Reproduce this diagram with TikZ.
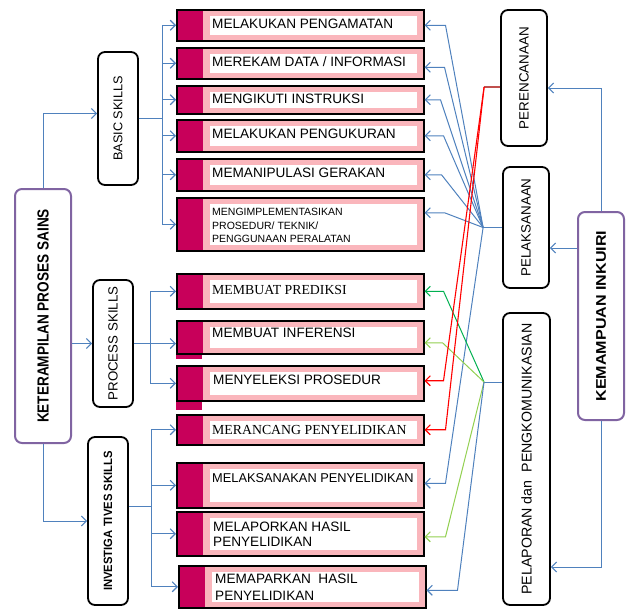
\documentclass[tikz,border=0pt]{standalone}
\usepackage{fontspec}
\usepackage{graphicx}
\setmainfont{Liberation Sans}
\newfontfamily\serifface{Liberation Serif}
\usetikzlibrary{arrows.meta}

\definecolor{linkblue}{RGB}{79,129,189}
\definecolor{crimsonfill}{RGB}{200,0,90}
\definecolor{stripefill}{RGB}{250,182,188}
\definecolor{framepurple}{RGB}{128,100,162}
\definecolor{linkred}{RGB}{255,0,0}
\definecolor{linkdarkred}{RGB}{192,80,77}
\definecolor{linkgreen}{RGB}{0,176,80}
\definecolor{linklightgreen}{RGB}{146,208,80}

\tikzset{
  skillbox/.style={anchor=north west, draw=black, line width=1.5pt, fill=stripefill,
    minimum width=247pt, inner sep=0pt,
    preaction={fill=black, transform canvas={xshift=1.6pt,yshift=-1.6pt}},
    path picture={
      \fill[crimsonfill] (path picture bounding box.north west) rectangle ([xshift=26pt]path picture bounding box.south west);
      \fill[white] ([xshift=33pt,yshift=-6pt]path picture bounding box.north west) rectangle ([xshift=-7pt,yshift=6pt]path picture bounding box.south east);
    }},
  skilltext/.style={anchor=west, inner sep=0pt, align=left, font=\fontsize{13.6}{15}\selectfont},
  groupbox/.style={draw=black, line width=1.8pt, rounded corners=7pt, fill=white, inner sep=0pt,
    font=\fontsize{13.4}{15}\selectfont},
  mainbox/.style={groupbox, draw=framepurple, line width=2pt},
  link/.style={draw=linkblue, line width=1pt},
  linkarrow/.style={link, -{Straight Barb[length=5pt,width=10pt,line width=1.1pt]}},
  redarrow/.style={linkarrow, draw=linkred, line width=1.1pt},
  greenarrow/.style={linkarrow, draw=linkgreen, line width=1pt},
  lightgreenarrow/.style={linkarrow, draw=linklightgreen, line width=1pt},
}

\begin{document}
\begin{tikzpicture}[x=1pt,y=1pt]
\useasboundingbox (0,0) rectangle (626,-608);

% group boxes, left
\node[mainbox, minimum width=56pt, minimum height=254pt, font=\bfseries\fontsize{16}{18}\selectfont] (kps) at (43,-316) {\rotatebox{90}{\scalebox{0.85}[1]{KETERAMPILAN PROSES SAINS}}};
\node[groupbox, minimum width=40pt, minimum height=133pt, font=\fontsize{12.7}{14}\selectfont] (basic) at (118,-118.5) {\rotatebox{90}{BASIC SKILLS}};
\node[groupbox, minimum width=40pt, minimum height=127pt, font=\fontsize{13.3}{15}\selectfont] (proc) at (113,-343.5) {\rotatebox{90}{PROCESS SKILLS}};
\node[groupbox, minimum width=40pt, minimum height=168pt, font=\bfseries\fontsize{12}{14}\selectfont] (inv) at (108,-521) {\rotatebox{90}{\scalebox{0.94}[1]{INVESTIGA TIVES SKILLS}}};

% group boxes, right
\node[groupbox, minimum width=46pt, minimum height=136pt] (per) at (524,-78) {\rotatebox{90}{PERENCANAAN}};
\node[groupbox, minimum width=46pt, minimum height=121pt] (pel) at (526,-227.5) {\rotatebox{90}{PELAKSANAAN}};
\node[groupbox, minimum width=47pt, minimum height=292pt, font=\fontsize{14.2}{16}\selectfont] (lap) at (526.5,-459) {\rotatebox{90}{PELAPORAN dan\ \ PENGKOMUNIKASIAN}};
\node[mainbox, minimum width=46pt, minimum height=208pt, font=\bfseries\fontsize{14}{16}\selectfont] (kem) at (601,-316) {\rotatebox{90}{\scalebox{1.15}[1]{KEMAMPUAN INKUIRI}}};

% skill boxes
\node[skillbox, minimum height=31pt] (b1) at (176,-9) {};
\node[skillbox, minimum height=31pt] (b2) at (176,-47) {};
\node[skillbox, minimum height=28pt] (b3) at (176,-85) {};
\node[skillbox, minimum height=32pt] (b4) at (176,-119) {};
\node[skillbox, minimum height=32pt] (b5) at (176,-158) {};
\node[skillbox, minimum height=53pt] (b6) at (176,-197) {};
\node[skillbox, minimum height=35pt] (b7) at (176,-273) {};
\node[skillbox, minimum height=33pt] (b8) at (176,-320) {};
\node[skillbox, minimum height=35pt] (b9) at (176,-365) {};
\node[skillbox, minimum height=30pt] (b10) at (176,-414) {};
\node[skillbox, minimum height=45pt] (b11) at (176,-462) {};
\node[skillbox, minimum height=44pt] (b12) at (176,-511) {};
\node[skillbox, minimum height=42pt] (b13) at (178,-565) {};
\fill[crimsonfill] (b8.south west) rectangle ++(26,-4);
\fill[crimsonfill] (b9.south west) rectangle ++(26,-8);

% skill texts
\node[skilltext] (t1) at (212,-24) {MELAKUKAN PENGAMATAN};
\node[skilltext] (t2) at (212,-62) {MEREKAM DATA / INFORMASI};
\node[skilltext] (t3) at (212,-99) {MENGIKUTI INSTRUKSI};
\node[skilltext] (t4) at (212,-134) {MELAKUKAN PENGUKURAN};
\node[skilltext] (t5) at (212,-173) {MEMANIPULASI GERAKAN};
\node[skilltext, font=\fontsize{10.5}{13.5}\selectfont] (t6) at (212,-225.5) {MENGIMPLEMENTASIKAN\\PROSEDUR/ TEKNIK/\\PENGGUNAAN PERALATAN};
\node[skilltext, font=\serifface\fontsize{13.8}{15}\selectfont] (t7) at (212,-290) {MEMBUAT PREDIKSI};
\node[skilltext] (t8) at (212,-333) {MEMBUAT INFERENSI};
\node[skilltext] (t9) at (213,-380) {MENYELEKSI PROSEDUR};
\node[skilltext, font=\serifface\fontsize{13.8}{15}\selectfont] (t10) at (212,-430) {MERANCANG PENYELIDIKAN};
\node[skilltext, font=\fontsize{12.8}{15}\selectfont] (t11) at (212,-478) {MELAKSANAKAN PENYELIDIKAN};
\node[skilltext] (t12) at (213,-534.5) {MELAPORKAN HASIL\\PENYELIDIKAN};
\node[skilltext, font=\fontsize{13.6}{17}\selectfont] (t13) at (215,-587.5) {MEMAPARKAN\ \ HASIL\\PENYELIDIKAN};

% left tree
\draw[linkarrow] (kps.north) |- ([yshift=5pt]basic.west);
\draw[linkarrow] (kps.east |- proc.west) -- (proc.west);
\draw[linkarrow] (kps.south) |- (inv.west);

\draw[linkarrow] (basic.east) -- ++(24,0) |- (b1.west);
\draw[linkarrow] (basic.east) -- ++(24,0) |- (b2.west);
\draw[linkarrow] (basic.east) -- ++(24,0) |- (b3.west);
\draw[linkarrow] (basic.east) -- ++(24,0) |- (b4.west);
\draw[linkarrow] (basic.east) -- ++(24,0) |- (b5.west);
\draw[linkarrow] (basic.east) -- ++(24,0) |- (b6.west);

\draw[linkarrow] (proc.east) -- ++(17,0) |- (b7.west);
\draw[linkarrow] (proc.east) -- (proc.east -| b8.west);
\draw[linkarrow] (proc.east) -- ++(17,0) |- (b9.west);

\draw[linkarrow] ([yshift=15pt]inv.east) -- ++(23,0) |- (b10.west);
\draw[linkarrow] ([yshift=15pt]inv.east) -- ++(23,0) |- (b11.west);
\draw[linkarrow] ([yshift=15pt]inv.east) -- ++(23,0) |- (b12.west);
\draw[linkarrow] ([yshift=15pt]inv.east) -- ++(23,0) |- (b13.west);

% right tree
\draw[linkarrow] (kem.north) |- ([yshift=-10pt]per.east);
\path ([yshift=-20.5pt]pel.east) coordinate (pelin);
\draw[linkarrow] (pelin -| kem.west) -- (pelin);
\draw[linkarrow] (kem.south) |- ([yshift=-108pt]lap.east);

% pelaksanaan links
\draw[link] (pel.west) -- ++(-19,0) coordinate (pelhub);
\draw[linkarrow] (pelhub) -- ([xshift=21pt]b1.east) -- (b1.east);
\draw[linkarrow] (pelhub) -- ([xshift=20pt,yshift=-4pt]b2.east) -- ([yshift=-4pt]b2.east);
\draw[linkarrow] (pelhub) -- ([xshift=16pt]b3.east) -- (b3.east);
\draw[linkarrow] (pelhub) -- ([xshift=19pt]b4.east) -- (b4.east);
\draw[linkarrow] (pelhub) -- ([xshift=17pt]b5.east) -- (b5.east);
\draw[linkarrow] (pelhub) -- ([xshift=20pt,yshift=11.5pt]b6.east) -- ([yshift=11.5pt]b6.east);
\draw[linkarrow] (pelhub) -- ([xshift=21pt,yshift=2pt]b11.east) -- ([yshift=2pt]b11.east);

% pelaporan links
\coordinate (laphub) at (484,-382);
\draw[link] (lap.west |- laphub) -- (laphub);
\draw[greenarrow] (laphub) -- ([xshift=19pt]b7.east) -- (b7.east);
\draw[lightgreenarrow] (laphub) -- ([xshift=18pt,yshift=-5.5pt]b8.east) -- ([yshift=-5.5pt]b8.east);
\draw[lightgreenarrow] (laphub) -- ([xshift=21pt,yshift=-3pt]b12.east) -- ([yshift=-3pt]b12.east);
\draw[linkarrow] (laphub) -- ([xshift=31pt,yshift=-3.5pt]b13.east) -- ([yshift=-3.5pt]b13.east);

% perencanaan links
\draw[draw=linkdarkred, line width=1.6pt] ([yshift=-9pt]per.west) -- ++(-16,0) coordinate (perhub);
\draw[redarrow] (perhub) -- ([xshift=19pt,yshift=2.5pt]b9.east) -- ([yshift=2.5pt]b9.east);
\draw[redarrow] (perhub) -- ([xshift=21pt]b10.east) -- (b10.east);
\end{tikzpicture}
\end{document}
